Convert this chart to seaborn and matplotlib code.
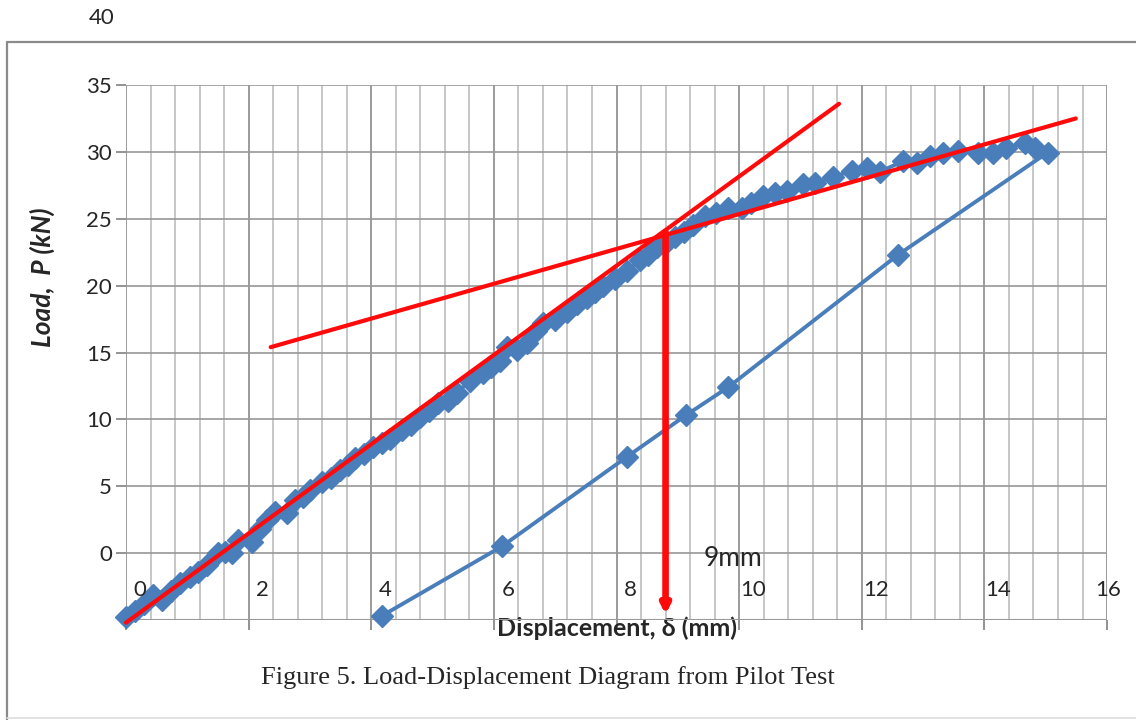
import numpy as np
import pandas as pd
import matplotlib
matplotlib.use("Agg")
import matplotlib.pyplot as plt
from matplotlib.lines import Line2D
from matplotlib.ticker import MultipleLocator
import seaborn as sns

# Load-displacement readings from the pilot test (loading, then unloading)
displacement = [0.00, 0.15, 0.30, 0.44, 0.59, 0.74, 0.88, 1.04, 1.18, 1.32, 1.50, 1.62, 1.73,
                1.83, 2.05, 2.18, 2.30, 2.43, 2.62, 2.75, 2.88, 3.00, 3.20, 3.35, 3.49, 3.62,
                3.73, 3.88, 4.03, 4.17, 4.30, 4.50, 4.65, 4.79, 4.94, 5.09, 5.25, 5.40, 5.61,
                5.82, 5.95, 6.10, 6.21, 6.38, 6.54, 6.68, 6.80, 7.00, 7.19, 7.35, 7.52, 7.65,
                7.78, 7.98, 8.17, 8.38, 8.52, 8.66, 8.80, 8.96, 9.10, 9.25, 9.44, 9.62, 9.82,
                10.04, 10.20, 10.39, 10.58, 10.78, 11.04, 11.23, 11.53, 11.84, 12.08, 12.29,
                12.67, 12.90, 13.11, 13.32, 13.57, 13.89, 14.14, 14.36, 14.66, 14.82, 15.03,
                12.59, 9.82, 9.13, 8.17, 6.13, 4.17]
load = [-4.8, -4.3, -3.8, -3.1, -3.5, -2.8, -2.2, -1.8, -1.4, -0.9, 0.0, 0.1, 0.0,
        1.0, 0.8, 1.8, 2.5, 3.1, 3.0, 4.0, 4.2, 4.7, 5.3, 5.6, 6.2, 6.6,
        7.1, 7.4, 7.9, 8.2, 8.5, 9.2, 9.6, 10.2, 10.6, 11.2, 11.4, 12.0, 12.9,
        13.5, 13.9, 14.4, 15.4, 15.2, 15.7, 16.6, 17.2, 17.4, 18.0, 18.6, 19.1, 19.5,
        20.0, 20.5, 21.1, 21.9, 22.3, 22.9, 23.2, 23.6, 24.0, 24.5, 25.2, 25.4, 25.8,
        25.8, 26.2, 26.7, 26.9, 27.1, 27.6, 27.7, 28.1, 28.6, 28.8, 28.5,
        29.3, 29.2, 29.7, 29.95, 30.1, 29.9, 29.95, 30.3, 30.7, 30.3, 29.95,
        22.3, 12.4, 10.3, 7.2, 0.5, -4.7]

# construction lines
tangent_x = [0.0, 11.63]
tangent_y = [-5.2, 33.6]
post_yield_x = [2.36, 15.49]
post_yield_y = [15.4, 32.5]
yield_x = 8.8
yield_y = 24.0

x_ticks = [0, 2, 4, 6, 8, 10, 12, 14, 16]
y_ticks = [0, 5, 10, 15, 20, 25, 30, 35]

df = pd.DataFrame({"disp": displacement, "load": load})

sns.set_style("white")
plt.rcParams["font.family"] = ["Lato", "DejaVu Sans"]

fig = plt.figure(figsize=(11.36, 7.2), dpi=100)
ax = fig.add_axes([0.1109, 0.1389, 0.8636, 0.7430])

blue = "#4a7ebb"
red = "#ff0a0a"

ax.set_xlim(0, 16)
ax.set_ylim(-5, 35)
ax.xaxis.set_major_locator(MultipleLocator(2))
ax.xaxis.set_minor_locator(MultipleLocator(0.4))
ax.set_yticks(y_ticks)
ax.grid(which="major", axis="x", color="#8a8a8a", lw=1.2)
ax.grid(which="minor", axis="x", color="#b8b8b8", lw=1.1)
ax.grid(which="major", axis="y", color="#979797", lw=1.2)
ax.axhline(-5, color="#9a9a9a", lw=1.5, zorder=1)
ax.set_axisbelow(True)
for s in ax.spines.values():
    s.set_visible(False)

sns.lineplot(data=df, x="disp", y="load", sort=False, estimator=None, ax=ax,
             color=blue, lw=2.8, marker="D", markersize=11, markeredgecolor=blue,
             markeredgewidth=1, zorder=3, clip_on=False)

ax.plot(tangent_x, tangent_y, color=red, lw=3, zorder=4, clip_on=False)
ax.plot(post_yield_x, post_yield_y, color=red, lw=3, zorder=4, clip_on=False)
ax.annotate("", xy=(yield_x, -4.6), xytext=(yield_x, yield_y),
            arrowprops=dict(arrowstyle="-|>,head_width=0.25,head_length=0.5",
                            color=red, lw=4.8, shrinkA=0, shrinkB=0), zorder=5)

ax.text(9.9, -0.4, "9mm", ha="center", va="center", fontsize=19, zorder=6)

# tick marks; x labels sit above the bottom line like in the spreadsheet chart
ax.tick_params(axis="x", which="major", bottom=True, length=7, width=1.3, color="#8a8a8a",
               labelbottom=False)
ax.tick_params(axis="x", which="minor", bottom=False)
ax.tick_params(axis="y", left=True, length=7, width=1.3, color="#8a8a8a", pad=3,
               labelsize=16)
for t in x_ticks:
    off = 0.02 if t == x_ticks[-1] else 0.23
    ax.text(t + off, -2.75, str(t), ha="center", va="center", fontsize=16, zorder=6)
ax.text(-0.18, 40, "40", ha="right", va="center", fontsize=16, clip_on=False)

ax.set_xlabel("Displacement, δ (mm)", fontsize=18, fontweight="bold",
              family=["Lato", "DejaVu Sans"])
ax.xaxis.set_label_coords(0.5, -0.016)
ax.xaxis.label.set_va("center")
ax.set_ylabel("Load,  P (kN)", fontsize=19, fontweight="bold", fontstyle="italic")
ax.yaxis.set_label_coords(-0.085, 0.64)
ax.yaxis.label.set_va("center")

fig.text(548 / 1136, 1 - 678 / 720, "Figure 5. Load-Displacement Diagram from Pilot Test",
         ha="center", va="center", fontsize=19, family="Liberation Serif")

# outer frame of the pasted chart
fig.add_artist(Line2D([7 / 1136, 7 / 1136], [0.0, 1 - 42 / 720], color="#8a8a8a", lw=1.6))
fig.add_artist(Line2D([7 / 1136, 1.0], [1 - 42 / 720, 1 - 42 / 720], color="#8a8a8a", lw=1.6))
fig.add_artist(Line2D([7 / 1136, 1.0], [2 / 720, 2 / 720], color="#dddddd", lw=1.2))

fig.savefig("out.png", dpi=100)
